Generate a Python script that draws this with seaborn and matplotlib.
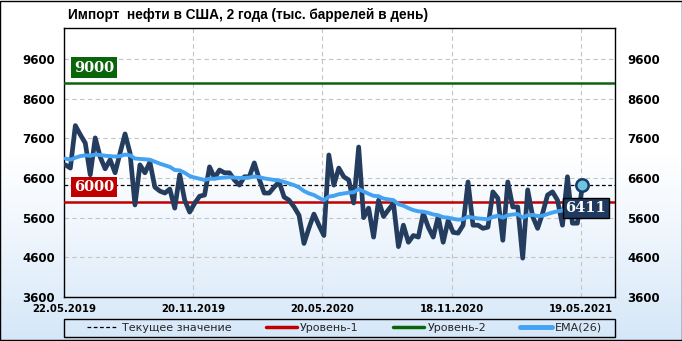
import numpy as np
import pandas as pd
import matplotlib
matplotlib.use("Agg")
import matplotlib.pyplot as plt
import matplotlib.transforms as mtransforms
from matplotlib.lines import Line2D
from matplotlib.patches import Rectangle
import seaborn as sns

# ---------------- data ----------------
start_date = "2019-05-24"
imports = [
    6930, 6850, 7920, 7690, 7480, 6680, 7610, 7130, 6830, 7060,
    6730, 7230, 7710, 7230, 5920, 6930, 6730, 7000, 6370, 6270,
    6220, 6320, 5840, 6680, 6040, 5740, 5960, 6140, 6170, 6880,
    6600, 6800, 6730, 6730, 6550, 6420, 6630, 6630, 6980, 6570,
    6220, 6220, 6370, 6500, 6120, 6040, 5870, 5660, 4950, 5340,
    5690, 5410, 5150, 7180, 6420, 6850, 6630, 6550, 5970, 7380,
    5600, 5840, 5110, 6040, 5630, 5800, 5960, 4870, 5410, 4980,
    5150, 5110, 5710, 5360, 5110, 5630, 4980, 5530, 5230, 5210,
    5410, 6500, 5410, 5410, 5330, 5360, 6250, 6090, 5030, 6500,
    5870, 5870, 4580, 6300, 5630, 5330, 5710, 6170, 6250, 6040,
    5410, 6630, 5460, 5460, 6411,
]
ema26 = [
    7090, 7060, 7110, 7150, 7170, 7160, 7190, 7180, 7160, 7150,
    7140, 7150, 7190, 7170, 7090, 7080, 7070, 7060, 7010, 6960,
    6920, 6880, 6800, 6790, 6730, 6650, 6610, 6580, 6550, 6580,
    6580, 6600, 6610, 6620, 6610, 6600, 6600, 6610, 6640, 6620,
    6590, 6570, 6550, 6540, 6500, 6460, 6420, 6360, 6270, 6210,
    6170, 6100, 6040, 6130, 6150, 6190, 6210, 6230, 6240, 6320,
    6260, 6200, 6150, 6140, 6080, 6060, 6040, 5940, 5900, 5840,
    5790, 5760, 5750, 5720, 5680, 5660, 5610, 5600, 5570, 5550,
    5560, 5620, 5600, 5580, 5570, 5560, 5620, 5650, 5600, 5660,
    5680, 5690, 5600, 5660, 5670, 5640, 5650, 5690, 5730, 5760,
    5780, 5840, 5820, 5800, 5850,
]
current_value = 6411
level1 = 6000
level2 = 9000
y_ticks = [3600, 4600, 5600, 6600, 7600, 8600, 9600]
x_tick_dates = ["2019-05-22", "2019-11-20", "2020-05-20", "2020-11-18", "2021-05-19"]
x_tick_labels = ["22.05.2019", "20.11.2019", "20.05.2020", "18.11.2020", "19.05.2021"]
title = "Импорт  нефти в США, 2 года (тыс. баррелей в день)"
legend_labels = ["Текущее значение", "Уровень-1", "Уровень-2", "EMA(26)"]

dates = pd.date_range(start_date, periods=len(imports), freq="7D")
df = pd.DataFrame({"date": dates, "imports": imports, "ema": ema26})

# ---------------- style ----------------
sns.set_theme(style="white")
plt.rcParams["font.family"] = ["DejaVu Sans"]

main_color = "#243d5f"
ema_color = "#43a2f2"
red = "#c00000"
green = "#0a650a"

fig = plt.figure(figsize=(6.82, 3.41), dpi=100)

# background gradient (white top -> light blue bottom)
bg = fig.add_axes([0, 0, 1, 1], zorder=-10)
h = 341
t = np.linspace(0, 1, h)
w = np.clip((t - 0.45) / 0.55, 0, 1) ** 1.1
top = np.array([1.0, 1.0, 1.0])
bot = np.array([0.835, 0.905, 0.975])
grad = (top[None, :] * (1 - w[:, None]) + bot[None, :] * w[:, None])[:, None, :]
bg.imshow(grad, aspect="auto", extent=[0, 1, 0, 1], origin="upper")
bg.axis("off")

ax = fig.add_axes([0.0938, 0.129, 0.808, 0.789])
ax.set_facecolor("none")

sns.lineplot(data=df, x="date", y="imports", ax=ax, color=main_color,
             lw=3.4, zorder=4, solid_joinstyle="round")
sns.lineplot(data=df, x="date", y="ema", ax=ax, color=ema_color,
             lw=2.8, zorder=5)
ax.axhline(level2, color=green, lw=1.8, zorder=3)
ax.axhline(level1, color=red, lw=1.8, zorder=3)
ax.axhline(current_value, color="black", lw=0.9, ls=(0, (3, 2)), zorder=3)
ax.scatter([dates[-1]], [imports[-1]], s=80, color="#6ec6dc",
           edgecolor="#173a6c", linewidth=1.8, zorder=7)

ax.set_xlim(pd.Timestamp("2019-05-22"), pd.Timestamp("2021-07-06"))
ax.set_ylim(3600, 10380)

ax.set_xticks(pd.to_datetime(x_tick_dates))
ax.set_xticklabels(x_tick_labels, fontweight="bold", fontsize=7.3)
ax.set_yticks(y_ticks)
ax.set_yticklabels([str(v) for v in y_ticks], fontweight="bold", fontsize=8.5)
ax.tick_params(axis="x", length=0, pad=5, colors="black")
ax.tick_params(axis="y", length=0, pad=6.5, colors="black")
ax.set_xlabel("")
ax.set_ylabel("")
ax.grid(True, ls=(0, (4, 3)), color="#c4c4c4", lw=0.8)
ax.set_axisbelow(True)
for s in ax.spines.values():
    s.set_color("black")
    s.set_linewidth(1.0)

ax2 = ax.twinx()
ax2.set_ylim(ax.get_ylim())
ax2.set_yticks(y_ticks)
ax2.set_yticklabels([str(v) for v in y_ticks], fontweight="bold", fontsize=8.5)
ax2.tick_params(axis="y", length=0, pad=9, colors="black")
ax2.grid(False)
for s in ax2.spines.values():
    s.set_visible(False)

# level labels
blend = mtransforms.blended_transform_factory(ax.transAxes, ax.transData)
lab_font = dict(family=["DejaVu Serif"], fontweight="bold",
                fontsize=10.5, color="white")
ax.text(0.0544, level2 + 380, f"{level2}", transform=blend, ha="center",
        va="center", zorder=8,
        bbox=dict(boxstyle="square,pad=0.22", fc=green, ec="none"), **lab_font)
ax.text(0.0544, level1 + 365, f"{level1}", transform=blend, ha="center",
        va="center", zorder=8,
        bbox=dict(boxstyle="square,pad=0.22", fc=red, ec="none"), **lab_font)
ax.text(0.9465, current_value - 565, f"{current_value}", transform=blend,
        ha="center", va="center", zorder=8,
        bbox=dict(boxstyle="square,pad=0.18", fc="#1f3a5e", ec="black", lw=1),
        **lab_font)

# title
fig.text(68 / 682, 1 - 15 / 341, title, ha="left", va="center",
         fontweight="bold", fontsize=9.8, color="black",
         family=["Liberation Sans Narrow", "Liberation Sans", "DejaVu Sans"])

# legend
handles = [
    Line2D([], [], color="black", lw=0.9, ls=(0, (3, 2))),
    Line2D([], [], color=red, lw=2.5),
    Line2D([], [], color=green, lw=2.5),
    Line2D([], [], color=ema_color, lw=3.5),
]
fig.legend(handles, legend_labels, loc="center", ncol=4, mode="expand",
           bbox_to_anchor=(0.0938 + 0.03, 0.0117, 0.808 - 0.045, 0.053),
           borderaxespad=0, fontsize=8, handlelength=2.8,
           handletextpad=0.3, frameon=False, columnspacing=1.0,
           borderpad=0.25)
fig.patches.append(Rectangle((0.0938, 0.0117), 0.808, 0.053,
                             transform=fig.transFigure,
                             fill=False, ec="black", lw=1.0, zorder=20))

# outer border
fig.patches.append(Rectangle((0.0007, 0.0015), 0.9986, 0.997,
                             transform=fig.transFigure,
                             fill=False, ec="black", lw=1.0, zorder=20))

fig.savefig("out.png", dpi=100)
